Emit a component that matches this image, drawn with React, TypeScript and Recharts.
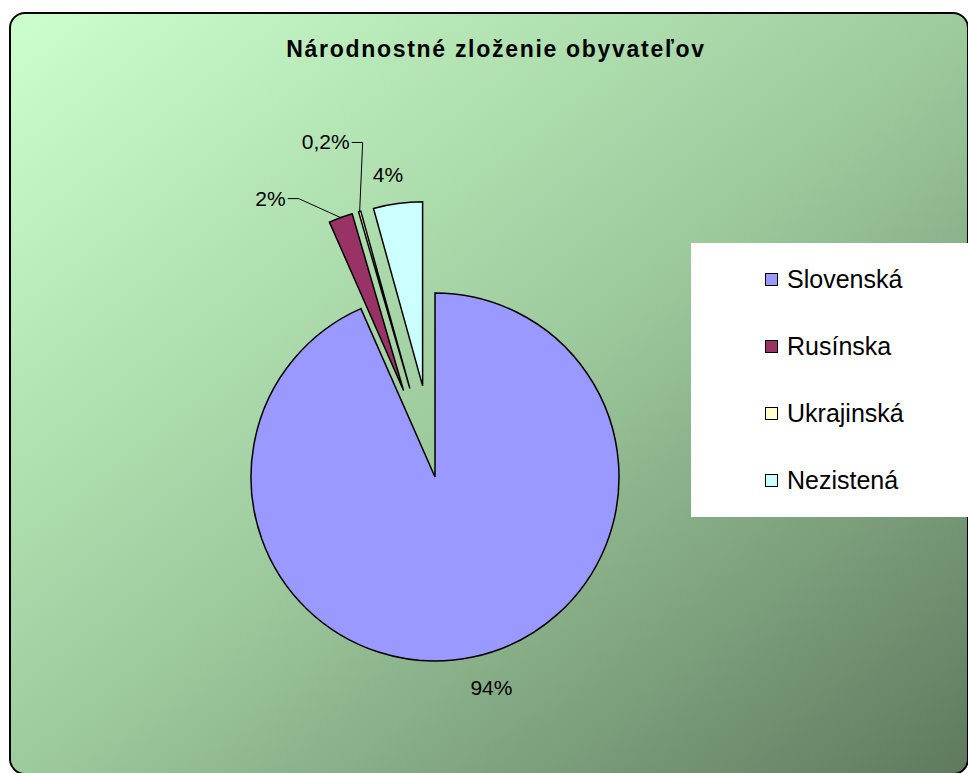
import { PieChart, Pie, Cell, Legend, Sector } from 'recharts';

// národnosti a ich podiely v %
const nazvy = ['Slovenská', 'Rusínska', 'Ukrajinská', 'Nezistená'];
const podiely = [93.4, 2.1, 0.2, 4.3];
const popisky = ['94%', '2%', '0,2%', '4%'];
const farby = ['#9999ff', '#993366', '#ffffcc', '#ccffff'];

const dataPie = nazvy.map((name, i) => ({ name, value: podiely[i] }));

const FONT = '"Liberation Sans", Arial, sans-serif';
const RAD = Math.PI / 180;
const VYSUNUTIE = [0, 92, 92, 92];

const indexPodla = (p: any) => {
  const n = p.name ?? p.payload?.name;
  const i = nazvy.indexOf(n);
  return i >= 0 ? i : p.index ?? 0;
};

const smer = (uhol: number) => ({ x: Math.cos(-uhol * RAD), y: Math.sin(-uhol * RAD) });

const VysunutyDiel = (props: any) => {
  const i = indexPodla(props);
  const d = smer(props.midAngle);
  const v = VYSUNUTIE[i];
  return <Sector {...props} cx={props.cx + d.x * v} cy={props.cy + d.y * v} />;
};

const Popisok = (props: any) => {
  const i = indexPodla(props);
  const { cx, cy, midAngle, outerRadius } = props;
  const d = smer(midAngle);
  const v = VYSUNUTIE[i];
  const sx = cx + d.x * v;
  const sy = cy + d.y * v;
  const ox = sx + d.x * outerRadius;
  const oy = sy + d.y * outerRadius;
  const txt = popisky[i];
  const styl = { fontFamily: FONT, fontSize: 21, fill: '#000' };

  if (i === 1 || i === 2) {
    const ex = i === 1 ? ox - 42 : ox + 3;
    const ey = i === 1 ? oy - 19 : oy - 69;
    return (
      <g>
        <polyline
          points={`${ox},${oy} ${ex},${ey} ${ex - 11},${ey}`}
          fill="none"
          stroke="#000"
          strokeWidth={1}
        />
        <text x={ex - 13} y={ey + 7} textAnchor="end" style={styl}>
          {txt}
        </text>
      </g>
    );
  }

  const r = outerRadius + (i === 0 ? 32 : 29);
  const tx = sx + d.x * r + (i === 0 ? 12 : -6);
  const ty = sy + d.y * r + 7;
  return (
    <text x={tx} y={ty} textAnchor="middle" style={styl}>
      {txt}
    </text>
  );
};

const LegendaBox = () => (
  <div
    style={{
      background: '#fff',
      width: 290,
      height: 274,
      boxSizing: 'border-box',
      paddingTop: 21,
      fontFamily: FONT,
    }}
  >
    {nazvy.map((n, i) => (
      <div
        key={n}
        style={{ display: 'flex', alignItems: 'center', height: 30, marginBottom: 37, paddingLeft: 74 }}
      >
        <span
          style={{
            display: 'inline-block',
            width: 11,
            height: 11,
            border: '1.5px solid #000',
            background: farby[i],
            marginRight: 9,
          }}
        />
        <span style={{ fontSize: 25, color: '#000' }}>{n}</span>
      </div>
    ))}
  </div>
);

export default function App() {
  return (
    <div style={{ position: 'absolute', left: 0, top: 0, width: 968, height: 773, overflow: 'hidden', background: '#fff' }}>
      <div
        style={{
          position: 'absolute',
          left: 9,
          top: 12,
          width: 956,
          height: 759,
          border: '2px solid #000',
          borderRadius: 16,
          background: 'linear-gradient(to bottom right, #ccffcc 0%, #9ecb9e 50%, #5f7a5f 100%)',
        }}
      />
      <div
        style={{
          position: 'absolute',
          left: 0,
          width: 992,
          top: 38,
          textAlign: 'center',
          fontFamily: FONT,
          fontWeight: 'bold',
          fontSize: 23,
          letterSpacing: '1.7px',
          lineHeight: '23px',
        }}
      >
        Národnostné zloženie obyvateľov
      </div>
      <div style={{ position: 'absolute', left: 0, top: 0 }}>
        <PieChart width={968} height={773} margin={{ top: 0, right: 0, bottom: 0, left: 0 }}>
          <Pie
            data={dataPie}
            dataKey="value"
            nameKey="name"
            cx={435}
            cy={477}
            outerRadius={184}
            startAngle={90}
            endAngle={-270}
            stroke="#000"
            strokeWidth={1.5}
            shape={VysunutyDiel}
            label={Popisok}
            labelLine={false}
            isAnimationActive={false}
          >
            {dataPie.map((e, i) => (
              <Cell key={e.name} fill={farby[i]} />
            ))}
          </Pie>
          <Legend
            content={LegendaBox}
            wrapperStyle={{ position: 'absolute', left: 691, top: 243, width: 290, height: 274 }}
          />
        </PieChart>
      </div>
    </div>
  );
}
